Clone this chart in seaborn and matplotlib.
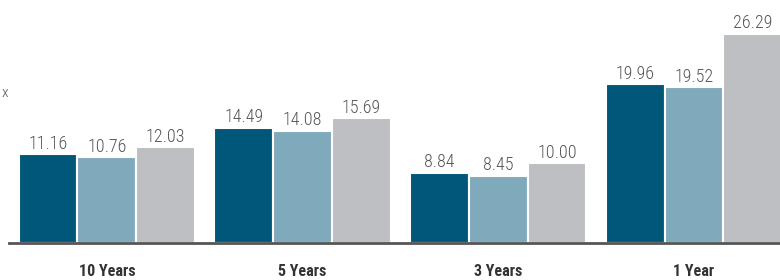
import pandas as pd
import matplotlib.pyplot as plt
import seaborn as sns
from matplotlib import font_manager

periods = ['10 Years', '5 Years', '3 Years', '1 Year']
series_names = ['Series 1', 'Series 2', 'Series 3']
series_1 = [11.16, 14.49, 8.84, 19.96]
series_2 = [10.76, 14.08, 8.45, 19.52]
series_3 = [12.03, 15.69, 10.00, 26.29]
colors = ['#00577A', '#7FAABB', '#BEBFC3']


def pick_font():
    names = {f.name for f in font_manager.fontManager.ttflist}
    for n in ['Liberation Sans Narrow', 'Roboto Condensed', 'Open Sans Condensed', 'Liberation Sans']:
        if n in names:
            return n
    return 'DejaVu Sans'


def main():
    rows = []
    for name, vals in zip(series_names, [series_1, series_2, series_3]):
        for p, v in zip(periods, vals):
            rows.append({'period': p, 'series': name, 'value': v})
    df = pd.DataFrame(rows)

    sns.set_style('white')
    font = pick_font()
    plt.rcParams['font.family'] = [font, 'DejaVu Sans']

    fig = plt.figure(figsize=(7.8, 2.8), dpi=100)
    ax = fig.add_axes([9 / 780, 37 / 280, 771 / 780, 243 / 280])

    sns.barplot(data=df, x='period', y='value', hue='series', order=periods,
                hue_order=series_names, palette=colors, width=0.9,
                edgecolor='white', linewidth=1.5, saturation=1, legend=False, ax=ax)

    for cont in ax.containers:
        ax.bar_label(cont, fmt='%.2f', padding=1, fontsize=13, color='#555555',
                     fontweight='light')

    ax.set_xlim(-0.5, 3.44)
    ax.set_ylim(0, 30.5)
    ax.set_xlabel('')
    ax.set_ylabel('')
    ax.set_yticks([])
    ax.tick_params(axis='x', length=0, pad=15)
    for lbl in ax.get_xticklabels():
        lbl.set_fontweight('bold')
        lbl.set_fontsize(11.5)
        lbl.set_color('#333333')
    for s in ['top', 'right', 'left']:
        ax.spines[s].set_visible(False)
    ax.spines['bottom'].set_color('#555555')
    ax.spines['bottom'].set_linewidth(2)

    fig.text(0.002, 1 - 93 / 280, 'x', fontsize=11, color='#555555',
             va='center', ha='left', fontweight='light')

    fig.savefig('out.png', dpi=100)


if __name__ == "__main__":
    main()
